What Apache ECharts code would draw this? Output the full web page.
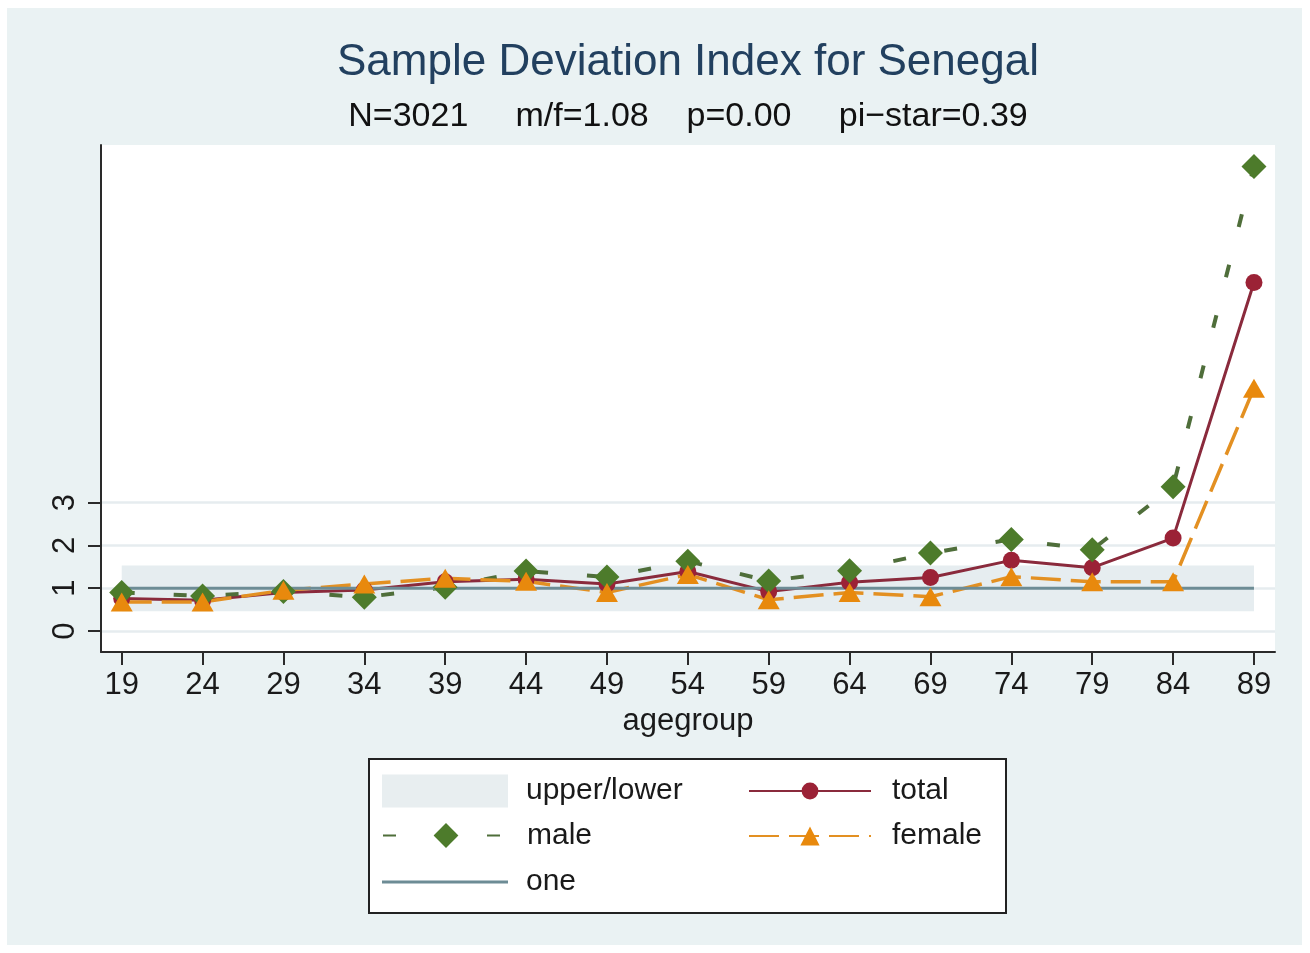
<!DOCTYPE html>
<html><head><meta charset="utf-8">
<script src="https://cdn.jsdelivr.net/npm/echarts@6/dist/echarts.min.js"></script>
<style>
html,body{margin:0;padding:0;background:#fff;width:1310px;height:953px;overflow:hidden}
#bg{position:absolute;left:7px;top:8px;width:1295px;height:937px;background:#eaf2f3}
#chart{position:absolute;left:0;top:0;width:1310px;height:953px}
</style></head><body><div id="bg"></div><div id="chart"></div>
<script>
// ---- data ----
const ages   = [19, 24, 29, 34, 39, 44, 49, 54, 59, 64, 69, 74, 79, 84, 89];
const total  = [0.76, 0.72, 0.90, 0.96, 1.15, 1.21, 1.10, 1.39, 0.92, 1.14, 1.25, 1.65, 1.48, 2.17, 8.14];
const male   = [0.90, 0.82, 0.92, 0.79, 1.02, 1.40, 1.26, 1.63, 1.17, 1.41, 1.82, 2.14, 1.90, 3.37, 10.85];
const female = [0.68, 0.68, 0.95, 1.10, 1.23, 1.16, 0.90, 1.32, 0.73, 0.90, 0.80, 1.27, 1.15, 1.15, 5.67];
const one    = [1, 1, 1, 1, 1, 1, 1, 1, 1, 1, 1, 1, 1, 1, 1];
const lower  = [0.46, 0.46, 0.46, 0.46, 0.46, 0.46, 0.46, 0.46, 0.46, 0.46, 0.46, 0.46, 0.46, 0.46, 0.46];
const upper  = [1.53, 1.53, 1.53, 1.53, 1.53, 1.53, 1.53, 1.53, 1.53, 1.53, 1.53, 1.53, 1.53, 1.53, 1.53];
const yTicks = [0, 1, 2, 3];
const xTicks = ages;
const titleText = 'Sample Deviation Index for Senegal';
const subText = 'N=3021     m/f=1.08    p=0.00     pi\u2212star=0.39';

const FONT = 'Liberation Sans';
const pts = arr => ages.map((a, i) => [a, arr[i]]);

function legendItem(name, left, centerY, w, h, padL, extra) {
  return Object.assign({
    data: [name], orient: 'vertical', left: left,
    top: centerY - Math.max(h / 2, 15), padding: 0,
    itemWidth: w, itemHeight: h, selectedMode: false,
    textStyle: { fontFamily: FONT, fontSize: 30, lineHeight: 30, color: '#1a1a1a', padding: [0, 0, 0, padL] }
  }, extra || {});
}

const chart = echarts.init(document.getElementById('chart'), null, { renderer: 'canvas' });
chart.setOption({
  backgroundColor: 'transparent',
  animation: false,
  textStyle: { fontFamily: FONT },
  title: [
    { text: titleText, left: 688, top: 41, textAlign: 'center', padding: 0,
      textStyle: { fontFamily: FONT, fontSize: 44, fontWeight: 'normal', color: '#22405f' } },
    { text: subText, left: 688, top: 100, textAlign: 'center', padding: 0,
      textStyle: { fontFamily: FONT, fontSize: 34, fontWeight: 'normal', color: '#111' } }
  ],
  grid: { left: 101, top: 145, width: 1174, height: 507, show: true, backgroundColor: '#ffffff', borderWidth: 0 },
  xAxis: {
    type: 'value', min: 17.72, max: 90.3,
    name: 'agegroup', nameLocation: 'middle', nameGap: 50,
    nameTextStyle: { fontFamily: FONT, fontSize: 31, color: '#1a1a1a' },
    axisLine: { show: true, onZero: false, lineStyle: { color: '#2a2a2a', width: 2 } },
    axisTick: { show: true, customValues: xTicks, length: 13, lineStyle: { color: '#2a2a2a', width: 2 } },
    axisLabel: { customValues: xTicks, fontFamily: FONT, fontSize: 31, color: '#1a1a1a', margin: 18 },
    splitLine: { show: false }
  },
  yAxis: {
    type: 'value', min: -0.49, max: 11.35,
    axisLine: { show: true, onZero: false, lineStyle: { color: '#2a2a2a', width: 2 } },
    axisTick: { show: true, customValues: yTicks, length: 13, lineStyle: { color: '#2a2a2a', width: 2 } },
    axisLabel: { customValues: yTicks, rotate: 90, fontFamily: FONT, fontSize: 31, color: '#1a1a1a', margin: 20 },
    splitLine: { show: false }
  },
  legend: [
    legendItem('upper/lower', 382, 791, 126, 33, 13,
      { data: [{ name: 'upper/lower', icon: 'rect', itemStyle: { color: '#e8eef0' } }] }),
    legendItem('male', 382, 836, 126, 31, 13),
    legendItem('one', 382, 882, 126, 3, 13,
      { data: [{ name: 'one', icon: 'rect', itemStyle: { color: '#6d8c95' } }] }),
    legendItem('total', 748, 791, 122, 21, 16),
    legendItem('female', 748, 836, 122, 24, 16)
  ],
  graphic: [
    { type: 'rect', shape: { x: 369, y: 759, width: 637, height: 154 },
      style: { fill: '#ffffff', stroke: '#222', lineWidth: 2 }, z: 1 }
  ],
  series: [
    { name: 'upper/lower', type: 'custom', silent: true,
      color: '#e6edf0', itemStyle: { color: '#e6edf0' },
      data: ages.map((a, i) => [a, lower[i], upper[i]]),
      encode: { x: 0, y: [1, 2] },
      renderItem: function (params, api) {
        if (params.dataIndex !== 0) return null;
        const top = ages.map((a, i) => api.coord([a, upper[i]]));
        const bot = ages.map((a, i) => api.coord([a, lower[i]])).reverse();
        return { type: 'polygon', shape: { points: top.concat(bot) },
                 style: { fill: '#e6edf0' } };
      },
      markLine: { silent: true, symbol: 'none', label: { show: false }, z: 0,
        lineStyle: { color: '#e6ecef', width: 2.5, type: 'solid' },
        data: yTicks.map(v => ({ yAxis: v })) } },
    { name: 'total', type: 'line', data: pts(total), symbol: 'circle', symbolSize: 17,
      color: '#9b2236', itemStyle: { color: '#9b2236' },
      lineStyle: { color: '#8a2a3c', width: 3 } },
    { name: 'male', type: 'line', data: pts(male), symbol: 'diamond', symbolSize: 25,
      color: '#4d7b2b', itemStyle: { color: '#4d7b2b' },
      lineStyle: { color: '#4f6e3a', width: 4, type: [13, 39] } },
    { name: 'female', type: 'line', data: pts(female), symbol: 'triangle', symbolSize: [22, 19],
      color: '#e8890d', itemStyle: { color: '#e8890d' },
      lineStyle: { color: '#e39022', width: 3.5, type: [30, 10] } },
    { name: 'one', type: 'line', data: pts(one), symbol: 'none',
      color: '#6d8c95', lineStyle: { color: '#6d8c95', width: 3 } }
  ]
});
</script></body></html>
